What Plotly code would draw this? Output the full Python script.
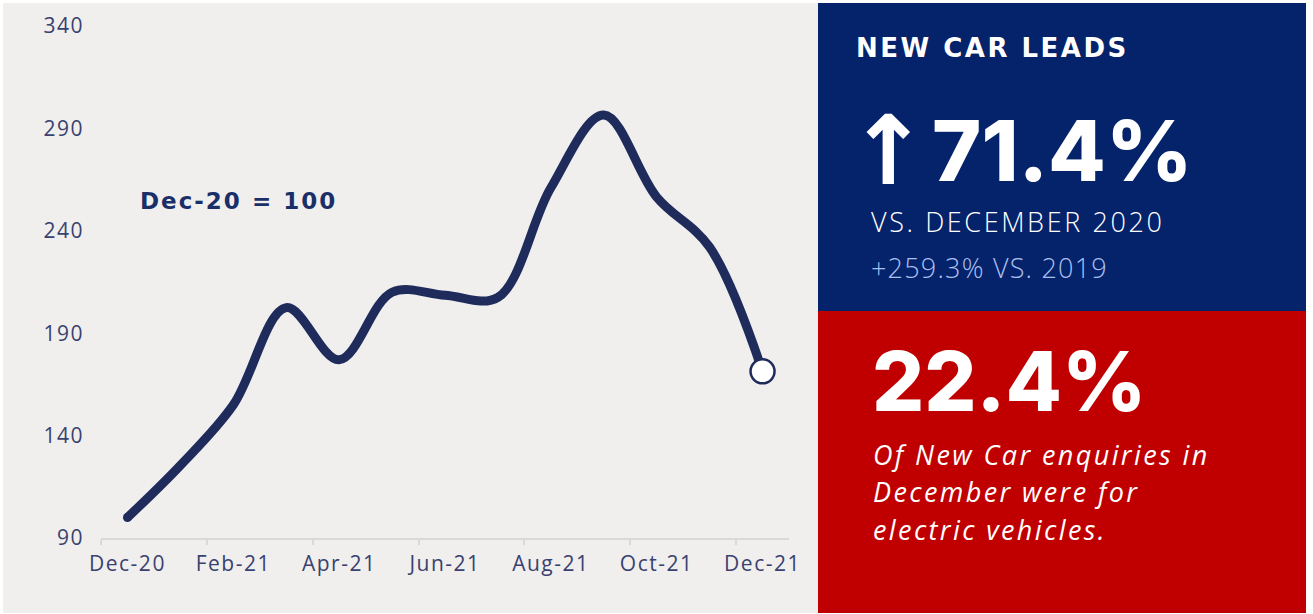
import plotly.graph_objects as go

# Monthly new-car lead index (Dec-20 = 100)
months = ["Dec-20", "Jan-21", "Feb-21", "Mar-21", "Apr-21", "May-21", "Jun-21",
          "Jul-21", "Aug-21", "Sep-21", "Oct-21", "Nov-21", "Dec-21"]
lead_index = [100, 125.5, 155, 202.5, 177, 210, 208.5, 207.5, 261, 296.5, 256.5, 232, 171.4]

y_ticks = [90, 140, 190, 240, 290, 340]
label_months = months[::2]

W, H = 1313, 614

NAVY_LINE = "#1f2b5b"
BLUE_PANEL = "#05236a"
RED_PANEL = "#c00000"
BG_GRAY = "#f0efee"
TICK_COLOR = "#39426f"
ANNOT_COLOR = "#1a2f68"
LIGHT_BLUE = "#a9bff0"


def px(x):
    return x / W


def py(y):
    return 1 - y / H


def spaced(text, sp):
    return f'<span style="letter-spacing:{sp}px">{text}</span>'


x_idx = list(range(len(months)))

fig = go.Figure()

fig.add_trace(go.Scatter(
    x=x_idx, y=lead_index, mode="lines",
    line=dict(color=NAVY_LINE, width=9, shape="spline", smoothing=1.0),
    hoverinfo="skip", showlegend=False,
))
# rounded start of the line
fig.add_trace(go.Scatter(
    x=x_idx[:1], y=lead_index[:1], mode="markers",
    marker=dict(color=NAVY_LINE, size=9, line=dict(width=0)),
    hoverinfo="skip", showlegend=False,
))
# latest month highlighted
fig.add_trace(go.Scatter(
    x=x_idx[-1:], y=lead_index[-1:], mode="markers",
    marker=dict(color="white", size=24, line=dict(color=NAVY_LINE, width=2.5)),
    hoverinfo="skip", showlegend=False,
))

tick_font = dict(family="Open Sans, sans-serif", size=21, color=TICK_COLOR, weight=400)

fig.update_xaxes(
    domain=[px(101), px(789)],
    range=[-0.5, len(months) - 0.5],
    tickmode="array",
    tickvals=x_idx[::2],
    ticktext=[spaced(m, 1.5) for m in label_months],
    ticks="",
    showline=True, linecolor="#d9d9d9", linewidth=2,
    showgrid=False, zeroline=False,
    tickfont=tick_font,
    ticklabelstandoff=6,
    minor=dict(tickmode="array", tickvals=[i - 0.5 for i in x_idx[::2]][:7],
               ticks="outside", ticklen=5, tickwidth=2, tickcolor="#d9d9d9",
               showgrid=False),
    fixedrange=True,
)
fig.update_yaxes(
    domain=[py(538), py(26)],
    range=[y_ticks[0], y_ticks[-1]],
    tickmode="array",
    tickvals=y_ticks,
    ticktext=[spaced(str(v), 1.5) for v in y_ticks],
    ticks="", showline=False, showgrid=False, zeroline=False,
    tickfont=tick_font,
    ticklabelstandoff=16,
    fixedrange=True,
)

shapes = [
    dict(type="rect", xref="paper", yref="paper", x0=px(3), x1=px(818),
         y0=py(613), y1=py(3), fillcolor=BG_GRAY, line=dict(width=0), layer="below"),
    dict(type="rect", xref="paper", yref="paper", x0=px(818), x1=px(1306),
         y0=py(311), y1=py(3), fillcolor=BLUE_PANEL, line=dict(width=0), layer="below"),
    dict(type="rect", xref="paper", yref="paper", x0=px(818), x1=px(1306),
         y0=py(613), y1=py(311), fillcolor=RED_PANEL, line=dict(width=0), layer="below"),
]


def note(x, y, text, size, color, family, weight=400, style="normal"):
    return dict(xref="paper", yref="paper", x=px(x), y=py(y), xanchor="left",
                yanchor="middle", showarrow=False, text=text,
                font=dict(family=family, size=size, color=color, weight=weight, style=style))


OPEN = "Open Sans, sans-serif"
annotations = [
    note(138, 201, spaced("Dec-20 = 100", 2), 23, ANNOT_COLOR, "DejaVu Sans", 700),
    note(854, 48, spaced("NEW CAR LEADS", 2.5), 26, "white", "DejaVu Sans", 700),
    note(846, 151, "↑", 96, "white", "DejaVu Sans", 700),
    note(930, 150, "71.4%", 84, "white", "Inter, sans-serif", 800),
    note(869, 222, spaced("VS. DECEMBER 2020", 2.6), 27, "white", OPEN, 300),
    note(869, 267, spaced("+259.3% VS. 2019", 1.2), 27, LIGHT_BLUE, OPEN, 300),
    note(870, 381, "22.4%", 82, "white", "Inter, sans-serif", 800),
    note(871, 454, spaced("Of New Car enquiries in", 2.4), 27, "white", OPEN, 400, "italic"),
    note(871, 491, spaced("December were for", 2.4), 27, "white", OPEN, 400, "italic"),
    note(871, 529, spaced("electric vehicles.", 2.4), 27, "white", OPEN, 400, "italic"),
]

fig.update_layout(
    width=W, height=H,
    margin=dict(l=0, r=0, t=0, b=0, autoexpand=False),
    paper_bgcolor="white",
    plot_bgcolor="rgba(0,0,0,0)",
    shapes=shapes,
    annotations=annotations,
    showlegend=False,
)

fig.write_html("out.html", config={"displayModeBar": False})
